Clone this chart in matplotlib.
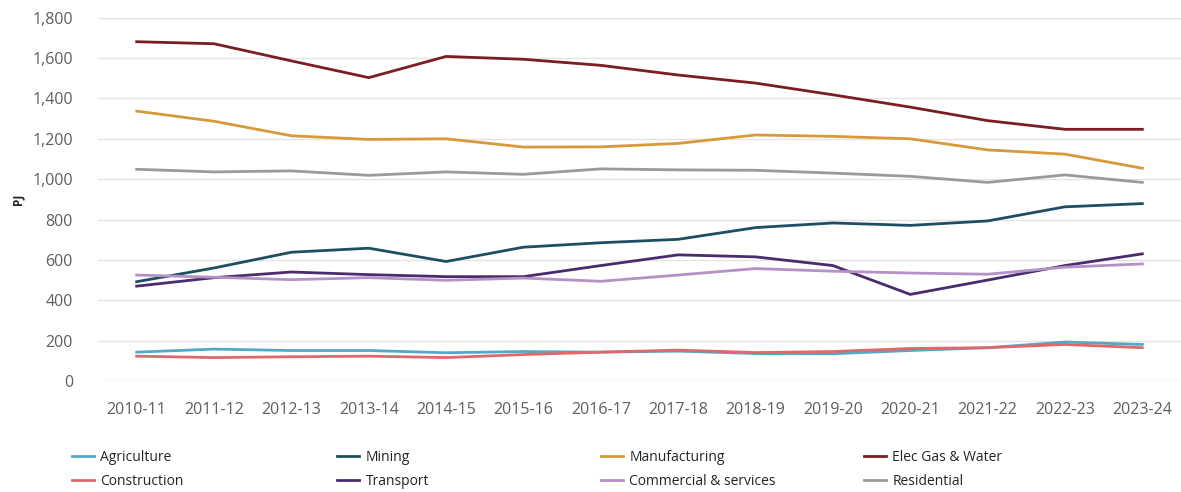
"""Final energy consumption by sector, 2010-11 to 2023-24 (PJ)."""
import matplotlib
matplotlib.use("Agg")
import matplotlib.pyplot as plt
from matplotlib.ticker import FuncFormatter

years = ["2010-11", "2011-12", "2012-13", "2013-14", "2014-15", "2015-16", "2016-17",
         "2017-18", "2018-19", "2019-20", "2020-21", "2021-22", "2022-23", "2023-24"]

agriculture = [143, 158, 151, 151, 140, 146, 143, 148, 136, 135, 151, 165, 193, 181]
mining = [492, 560, 638, 658, 592, 663, 685, 702, 760, 783, 771, 793, 863, 879]
manufacturing = [1337, 1287, 1215, 1197, 1200, 1159, 1160, 1177, 1219, 1212, 1200, 1145, 1124, 1054]
elec_gas_water = [1681, 1671, 1586, 1503, 1608, 1594, 1564, 1516, 1476, 1418, 1357, 1290, 1247, 1247]
construction = [123, 116, 120, 123, 116, 131, 143, 153, 141, 146, 161, 165, 181, 165]
transport = [470, 512, 540, 527, 517, 517, 572, 625, 615, 572, 429, 500, 572, 630]
commercial = [525, 514, 502, 512, 499, 510, 494, 525, 557, 544, 535, 529, 564, 580]
residential = [1049, 1036, 1041, 1019, 1036, 1024, 1051, 1046, 1044, 1030, 1014, 984, 1021, 984]

SERIES = [
    ("Agriculture", agriculture, "#4FAAC9"),
    ("Mining", mining, "#1D4E61"),
    ("Manufacturing", manufacturing, "#D79A3A"),
    ("Elec Gas & Water", elec_gas_water, "#7A1E24"),
    ("Construction", construction, "#E0686B"),
    ("Transport", transport, "#4A2C6E"),
    ("Commercial & services", commercial, "#B591C7"),
    ("Residential", residential, "#9A9A9A"),
]

plt.rcParams["font.family"] = ["Open Sans", "DejaVu Sans"]
TXT = "#605E5C"

fig = plt.figure(figsize=(11.81, 4.92), dpi=100)
ax = fig.add_axes([98 / 1181, 111 / 492, 1083 / 1181, 363.3 / 492])

x = list(range(len(years)))
handles = []
for name, vals, col in SERIES:
    (h,) = ax.plot(x, vals, color=col, lw=2.0, label=name)
    handles.append(h)

ax.set_xlim(-0.5, len(years) - 0.5)
ax.set_ylim(0, 1800)
ax.set_yticks(range(0, 1801, 200))
ax.yaxis.set_major_formatter(FuncFormatter(lambda v, _: f"{v:,.0f}"))
ax.set_xticks(x)
ax.set_xticklabels(years)
ax.tick_params(length=0, labelsize=11.5, colors=TXT)
ax.tick_params(axis="y", pad=18)
ax.tick_params(axis="x", pad=15)
ax.grid(axis="y", color="#E4E4E4", lw=1.0)
ax.set_axisbelow(True)
for s in ax.spines.values():
    s.set_visible(False)
ax.set_ylabel("PJ", fontsize=8.5, fontweight="bold", color="#252423")
ax.yaxis.set_label_coords(-0.068, 0.5)

# legend: four columns of two, row-major order like the source
col_x = [72, 337, 601, 864]
for i, cx in enumerate(col_x):
    hs = [handles[i], handles[i + 4]]
    fig.legend(hs, [h.get_label() for h in hs], loc="upper left",
               bbox_to_anchor=(cx / 1181, 1 - 450 / 492), frameon=False,
               fontsize=10, handlelength=1.6, handletextpad=0.45,
               labelspacing=0.62, borderpad=0, borderaxespad=0, labelcolor="#252423")

fig.savefig("out.png", dpi=100)
